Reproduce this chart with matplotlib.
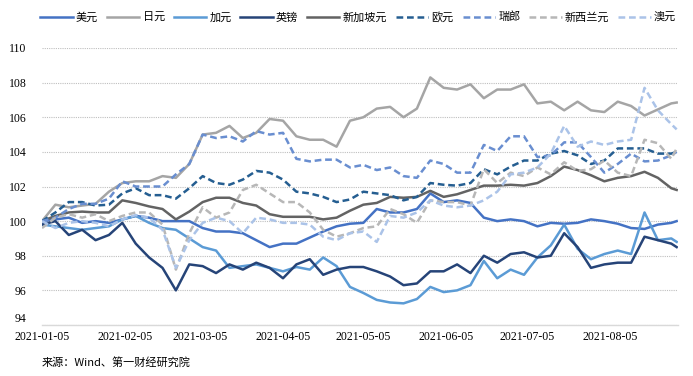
import pandas as pd
import matplotlib
matplotlib.use("Agg")
import matplotlib.pyplot as plt
import matplotlib.dates as mdates

plt.rcParams['font.family'] = ['Noto Sans CJK SC', 'DejaVu Sans']

# sampled roughly every 5 calendar days, last point 2021-08-30
dates = list(pd.date_range('2021-01-05', periods=48, freq='5D')) + [pd.Timestamp('2021-08-30')]

usd = [100.0, 100.1, 100.2, 99.9, 100.0, 99.9, 100.1, 100.3, 100.2, 100.0,
       100.0, 100.0, 99.6, 99.4, 99.4, 99.3, 98.9, 98.5, 98.7, 98.7,
       99.05, 99.4, 99.7, 99.85, 99.9, 100.7, 100.5, 100.5, 100.7, 101.6,
       101.1, 101.2, 101.05, 100.2, 100.0, 100.1, 100.0, 99.7, 99.9, 99.85,
       99.9, 100.1, 100.0, 99.85, 99.6, 99.55, 99.8, 99.9, 100.0]
jpy = [100.0, 100.95, 100.8, 100.9, 101.0, 101.7, 102.2, 102.3, 102.3, 102.6,
       102.5, 103.3, 105.0, 105.1, 105.5, 104.8, 105.1, 105.9, 105.8, 104.9,
       104.7, 104.7, 104.3, 105.8, 106.0, 106.5, 106.6, 106.0, 106.5, 108.3,
       107.7, 107.6, 107.9, 107.1, 107.6, 107.6, 107.9, 106.8, 106.9, 106.4,
       106.9, 106.4, 106.3, 106.9, 106.65, 106.1, 106.45, 106.8, 106.85]
cad = [99.8, 99.7, 99.6, 99.5, 99.6, 99.7, 100.1, 100.3, 99.9, 99.6,
       99.5, 99.0, 98.5, 98.3, 97.3, 97.4, 97.5, 97.3, 97.1, 97.35,
       97.2, 97.9, 97.4, 96.2, 95.85, 95.45, 95.3, 95.25, 95.5, 96.2,
       95.9, 96.0, 96.3, 97.7, 96.7, 97.2, 96.9, 97.9, 98.6, 99.8,
       98.4, 97.8, 98.1, 98.3, 98.1, 100.5, 98.9, 99.0, 98.8]
gbp = [99.8, 100.0, 99.2, 99.5, 98.9, 99.2, 99.9, 98.7, 97.9, 97.3,
       96.0, 97.5, 97.4, 97.0, 97.5, 97.2, 97.6, 97.3, 96.7, 97.5,
       97.8, 96.9, 97.2, 97.35, 97.35, 97.1, 96.8, 96.3, 96.4, 97.1,
       97.1, 97.5, 97.0, 98.0, 97.6, 98.1, 98.2, 97.9, 98.0, 99.3,
       98.5, 97.3, 97.5, 97.6, 97.6, 99.1, 98.9, 98.7, 98.5]
sgd = [100.0, 100.3, 100.5, 100.55, 100.5, 100.5, 101.2, 101.05, 100.85, 100.7,
       100.1, 100.55, 101.1, 101.35, 101.35, 101.05, 100.9, 100.4, 100.25, 100.25,
       100.25, 100.1, 100.2, 100.6, 100.95, 101.05, 101.4, 101.35, 101.4, 101.75,
       101.4, 101.55, 101.8, 102.05, 102.05, 102.1, 102.05, 102.2, 102.6, 103.15,
       102.95, 102.65, 102.3, 102.5, 102.6, 102.85, 102.5, 101.9, 101.8]
eur = [100.0, 100.5, 101.1, 101.1, 100.9, 100.95, 101.6, 101.9, 101.5, 101.5,
       101.3, 101.9, 102.6, 102.2, 102.1, 102.4, 102.9, 102.8, 102.4, 101.7,
       101.6, 101.4, 101.1, 101.25, 101.7, 101.6, 101.5, 101.2, 101.4, 102.2,
       102.1, 102.05, 102.2, 103.0, 102.7, 103.15, 103.5, 103.5, 103.9, 104.05,
       103.8, 103.3, 103.5, 104.2, 104.2, 104.2, 103.9, 103.9, 104.0]
chf = [100.0, 100.2, 100.7, 101.0, 101.0, 101.3, 102.3, 102.0, 102.0, 102.0,
       102.7, 103.3, 105.0, 104.8, 104.9, 104.6, 105.2, 105.0, 105.1, 103.6,
       103.45, 103.55, 103.55, 103.1, 103.25, 102.95, 103.1, 102.6, 102.5, 103.5,
       103.3, 102.8, 102.8, 104.4, 104.05, 104.9, 104.9, 103.7, 103.8, 104.55,
       104.55, 103.7, 102.8, 103.3, 103.9, 103.45, 103.5, 103.8, 104.0]
nzd = [99.6, 100.2, 100.4, 100.2, 100.4, 100.0, 100.3, 100.5, 100.5, 99.8,
       97.2, 99.3, 100.8, 100.2, 100.5, 101.8, 102.1, 101.6, 101.1, 101.1,
       100.5, 99.5, 99.1, 99.3, 99.6, 99.7, 100.7, 100.4, 99.9, 101.2,
       101.1, 101.1, 100.9, 103.0, 102.2, 102.8, 102.6, 103.1, 102.7, 103.4,
       102.9, 103.0, 103.5, 102.8, 102.6, 104.7, 104.5, 103.6, 104.2]
aud = [100.0, 99.6, 99.9, 100.0, 99.9, 99.7, 100.1, 100.35, 100.2, 99.5,
       97.3, 98.9, 99.9, 100.2, 100.0, 99.3, 100.2, 100.1, 99.9, 99.9,
       99.8, 99.1, 98.9, 99.3, 99.4, 98.8, 100.3, 100.2, 100.5, 101.2,
       100.9, 100.8, 100.9, 101.2, 101.7, 102.7, 102.8, 103.1, 103.9, 105.5,
       104.3, 104.6, 104.4, 104.6, 104.7, 107.7, 106.4, 105.6, 105.3]

names = ['美元', '日元', '加元', '英镑', '新加坡元', '欧元', '瑞郎', '新西兰元', '澳元']
series = [usd, jpy, cad, gbp, sgd, eur, chf, nzd, aud]
colors = ['#4472C4', '#A5A5A5', '#5B9BD5', '#264478', '#636363',
          '#255E91', '#698ED0', '#B7B7B7', '#ABC3E8']
dashed = [False, False, False, False, False, True, True, True, True]

fig = plt.figure(figsize=(6.93, 3.76), dpi=100)
ax = fig.add_axes([42 / 693, 1 - 325 / 376, 636 / 693, 277 / 376])

for name, vals, c, d in zip(names, series, colors, dashed):
    if d:
        ax.plot(dates, vals, color=c, lw=1.8, label=name, dashes=(2.7, 1.5))
    else:
        ax.plot(dates, vals, color=c, lw=1.8, label=name)

ax.set_ylim(94, 110)
ax.set_yticks(range(94, 111, 2))
ax.set_xlim(pd.Timestamp('2021-01-05'), pd.Timestamp('2021-08-30 12:00'))
ticks = pd.to_datetime(['2021-01-05', '2021-02-05', '2021-03-05', '2021-04-05',
                        '2021-05-05', '2021-06-05', '2021-07-05', '2021-08-05'])
ax.set_xticks(ticks)
ax.xaxis.set_major_formatter(mdates.DateFormatter('%Y-%m-%d'))

ax.grid(axis='y', linestyle=(0, (1, 1)), color='#BFBFBF', lw=0.8)
ax.set_axisbelow(True)
for s in ['top', 'right', 'left']:
    ax.spines[s].set_visible(False)
ax.spines['bottom'].set_color('#D9D9D9')
ax.spines['bottom'].set_linewidth(1)
ax.tick_params(axis='both', length=0, labelsize=8.5)
ax.tick_params(axis='y', pad=11)
ax.tick_params(axis='x', pad=4)
for lab in ax.get_xticklabels() + ax.get_yticklabels():
    lab.set_fontfamily('Liberation Serif')
# the bottom label sits a little above the axis line, as in the source chart
ax.get_yticklabels()[0].set_va('bottom')

fig.legend(loc='center', bbox_to_anchor=(0.517, 1 - 17 / 376), ncol=9, frameon=False,
           fontsize=8, handlelength=2.9, handletextpad=0.3, columnspacing=0.8,
           borderaxespad=0)

fig.text(42 / 693, 1 - 362 / 376, '来源：Wind、第一财经研究院', fontsize=8, va='center')

fig.savefig('out.png', dpi=100)
